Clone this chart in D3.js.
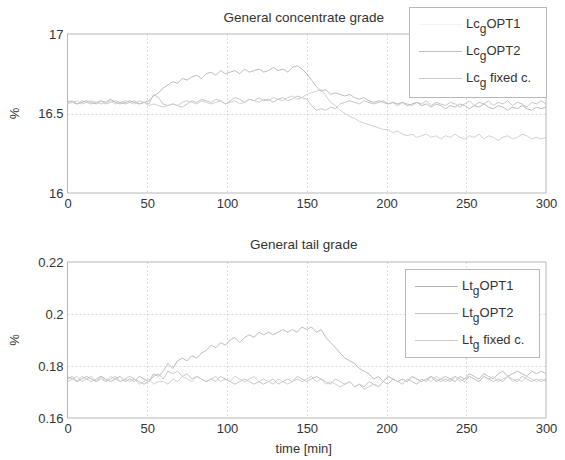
<!DOCTYPE html>
<html><head><meta charset="utf-8">
<script src="https://cdn.jsdelivr.net/npm/d3@7"></script>
<style>body{margin:0;background:#fff}svg{display:block}text{font-family:"Liberation Sans",Arial,sans-serif}</style>
</head><body><svg id="c" width="565" height="460"></svg>
<script>
const time = d3.range(0, 301, 3);
const xTicks = [0, 50, 100, 150, 200, 250, 300];
const topTicks = [16, 16.5, 17];
const botTicks = [0.16, 0.18, 0.2, 0.22];
const topNames = ["OPT1", "OPT2", " fixed c."];
const botNames = ["OPT1", "OPT2", " fixed c."];

const lcOPT1 = [
16.57,16.58,16.56,16.57,16.58,16.57,16.56,16.58,16.57,16.59,
16.57,16.56,16.57,16.58,16.57,16.56,16.57,16.58,16.61,16.63,
16.66,16.68,16.70,16.69,16.72,16.71,16.73,16.74,16.72,16.75,
16.76,16.74,16.77,16.75,16.76,16.77,16.75,16.78,16.76,16.77,
16.78,16.76,16.77,16.79,16.77,16.78,16.76,16.79,16.80,16.78,
16.75,16.71,16.67,16.64,16.65,16.62,16.63,16.62,16.61,16.62,
16.60,16.59,16.60,16.58,16.57,16.58,16.57,16.56,16.57,16.56,
16.57,16.55,16.56,16.57,16.55,16.56,16.54,16.56,16.55,16.53,
16.55,16.54,16.56,16.55,16.53,16.55,16.54,16.56,16.54,16.53,
16.55,16.54,16.52,16.54,16.53,16.55,16.53,16.52,16.54,16.53,
16.54];
const lcOPT2 = [
16.58,16.57,16.56,16.58,16.57,16.56,16.57,16.58,16.56,16.57,
16.58,16.57,16.56,16.57,16.58,16.56,16.57,16.56,16.62,16.60,
16.56,16.55,16.56,16.55,16.54,16.56,16.58,16.57,16.59,16.58,
16.57,16.59,16.58,16.56,16.58,16.60,16.59,16.57,16.59,16.58,
16.60,16.58,16.59,16.57,16.59,16.60,16.58,16.59,16.61,16.60,
16.59,16.55,16.52,16.53,16.52,16.54,16.53,16.56,16.57,16.58,
16.57,16.56,16.58,16.57,16.56,16.57,16.58,16.56,16.57,16.55,
16.57,16.56,16.55,16.57,16.56,16.58,16.55,16.57,16.56,16.55,
16.57,16.56,16.54,16.56,16.58,16.55,16.57,16.56,16.58,16.55,
16.57,16.56,16.58,16.55,16.57,16.56,16.54,16.57,16.56,16.58,
16.56];
const lcFixed = [
16.56,16.57,16.58,16.56,16.57,16.58,16.57,16.56,16.57,16.58,
16.56,16.57,16.58,16.57,16.56,16.58,16.57,16.55,16.56,16.55,
16.54,16.55,16.56,16.55,16.57,16.58,16.57,16.56,16.58,16.57,
16.56,16.57,16.58,16.56,16.57,16.58,16.56,16.57,16.59,16.58,
16.57,16.59,16.58,16.60,16.59,16.58,16.60,16.61,16.59,16.60,
16.62,16.63,16.64,16.65,16.61,16.57,16.55,16.52,16.50,16.48,
16.47,16.45,16.44,16.43,16.42,16.41,16.40,16.40,16.38,16.39,
16.37,16.36,16.37,16.35,16.36,16.37,16.35,16.36,16.34,16.36,
16.35,16.37,16.35,16.34,16.36,16.35,16.37,16.34,16.36,16.35,
16.33,16.35,16.36,16.34,16.35,16.37,16.36,16.34,16.35,16.34,
16.35];
const ltOPT1 = [
.175,.176,.174,.175,.176,.175,.174,.176,.175,.174,
.175,.176,.174,.175,.174,.176,.175,.174,.177,.176,
.178,.181,.179,.182,.183,.182,.184,.183,.185,.186,
.188,.187,.189,.188,.190,.191,.189,.191,.192,.191,
.193,.192,.193,.192,.193,.194,.193,.194,.193,.195,
.194,.195,.193,.194,.191,.189,.187,.185,.183,.182,
.181,.179,.178,.177,.175,.176,.174,.176,.175,.174,
.175,.174,.176,.175,.174,.175,.176,.174,.175,.176,
.175,.174,.176,.175,.177,.176,.175,.177,.176,.175,
.177,.178,.176,.177,.178,.177,.176,.178,.177,.178,
.177];
const ltOPT2 = [
.176,.175,.174,.176,.175,.174,.175,.176,.174,.175,
.176,.174,.175,.176,.175,.174,.173,.174,.176,.177,
.175,.178,.177,.178,.176,.177,.175,.176,.175,.174,
.175,.174,.176,.175,.174,.173,.174,.175,.174,.173,
.174,.173,.174,.175,.173,.174,.175,.174,.176,.175,
.174,.175,.176,.175,.174,.173,.175,.174,.173,.174,
.172,.173,.172,.174,.173,.172,.174,.173,.175,.174,
.173,.175,.174,.173,.175,.174,.176,.175,.174,.175,
.174,.176,.175,.174,.176,.175,.174,.176,.175,.174,
.175,.174,.176,.175,.174,.176,.175,.174,.175,.174,
.175];
const ltFixed = [
.174,.175,.176,.174,.175,.176,.174,.175,.174,.176,
.175,.174,.175,.174,.175,.173,.174,.175,.173,.174,
.174,.173,.175,.174,.176,.175,.174,.176,.175,.174,
.175,.176,.174,.175,.174,.176,.175,.174,.175,.176,
.174,.175,.174,.173,.175,.174,.173,.174,.175,.174,
.175,.176,.174,.175,.173,.174,.173,.172,.173,.174,
.172,.173,.171,.172,.173,.172,.174,.176,.175,.174,
.175,.174,.176,.175,.174,.175,.174,.176,.175,.174,
.175,.176,.174,.175,.176,.175,.174,.176,.175,.176,
.174,.175,.176,.174,.175,.174,.176,.175,.174,.175,
.174];

const colors = ["#b4b4b4", "#c0c0c0", "#cbcbcb"];
const svg = d3.select("#c");
const L = 67.5, R = 546;

function panel(cfg) {
  const x = d3.scaleLinear().domain([0, 300]).range([L, R]);
  const y = d3.scaleLinear().domain(cfg.yDomain).range([cfg.bottom, cfg.top]);
  const g = svg.append("g");
  g.selectAll(".gx").data(xTicks.slice(1, -1)).join("line")
    .attr("x1", d => Math.round(x(d)) + 0.5).attr("x2", d => Math.round(x(d)) + 0.5)
    .attr("y1", cfg.top).attr("y2", cfg.bottom)
    .attr("stroke", "#dcdcdc").attr("stroke-dasharray", "2,2");
  g.selectAll(".gy").data(cfg.yTicks.slice(1, -1)).join("line")
    .attr("y1", d => Math.round(y(d)) + 0.5).attr("y2", d => Math.round(y(d)) + 0.5)
    .attr("x1", L).attr("x2", R)
    .attr("stroke", "#dcdcdc").attr("stroke-dasharray", "2,2");
  const line = d3.line().x((d, i) => x(time[i])).y(d => y(d));
  cfg.series.forEach((s, i) => {
    g.append("path").datum(s).attr("d", line).attr("fill", "none")
      .attr("stroke", colors[i]).attr("stroke-width", 0.9);
  });
  g.append("rect").attr("x", L).attr("y", cfg.top).attr("width", R - L).attr("height", cfg.bottom - cfg.top)
    .attr("fill", "none").attr("stroke", "#b8b8b8");
  const xa = d3.axisBottom(x).tickValues(xTicks).tickSize(0).tickPadding(6).tickFormat(d3.format("d"));
  const xg = g.append("g").attr("transform", `translate(0,${cfg.bottom})`).call(xa);
  xg.select(".domain").remove();
  xg.selectAll("text").attr("font-size", 13).attr("fill", "#333");
  const ya = d3.axisLeft(y).tickValues(cfg.yTicks).tickSize(0).tickPadding(4).tickFormat(d => String(+d.toFixed(2)));
  const yg = g.append("g").attr("transform", `translate(${L},0)`).call(ya);
  yg.select(".domain").remove();
  yg.selectAll("text").attr("font-size", 13).attr("fill", "#333");
  svg.append("text").attr("x", (L + R) / 2 - 3).attr("y", cfg.titleY).attr("text-anchor", "middle")
    .attr("font-size", 13.5).attr("fill", "#333").text(cfg.title);
  svg.append("text").attr("transform", `translate(19,${(cfg.top + cfg.bottom) / 2}) rotate(-90)`)
    .attr("text-anchor", "middle").attr("font-size", 13).attr("fill", "#333").text("%");
  const lg = cfg.legend;
  svg.append("rect").attr("x", lg.x + 0.5).attr("y", lg.y + 0.5).attr("width", lg.w).attr("height", lg.h)
    .attr("fill", "#fff").attr("stroke", "#b8b8b8");
  cfg.names.forEach((n, i) => {
    const cy = lg.y + 17 + i * 27;
    svg.append("line").attr("x1", lg.x + 10).attr("x2", lg.x + 53).attr("y1", cy + 0.5).attr("y2", cy + 0.5)
      .attr("stroke", i === 0 && cfg.firstHidden ? "#f4f4f4" : colors[i]);
    const t = svg.append("text").attr("x", lg.x + 57).attr("y", cy + 4).attr("font-size", 13).attr("fill", "#333");
    t.append("tspan").text(cfg.prefix);
    t.append("tspan").attr("font-size", 12).attr("dy", 5).text("g");
    t.append("tspan").attr("dy", -5).text(n);
  });
}

panel({top: 34, bottom: 193, yDomain: [16, 17], yTicks: topTicks,
  series: [lcOPT1, lcOPT2, lcFixed], title: "General concentrate grade", titleY: 22,
  legend: {x: 409, y: 7, w: 137, h: 90}, names: topNames, prefix: "Lc", firstHidden: true});
panel({top: 262, bottom: 418, yDomain: [0.16, 0.22], yTicks: botTicks,
  series: [ltOPT1, ltOPT2, ltFixed], title: "General tail grade", titleY: 249,
  legend: {x: 405, y: 269, w: 134, h: 88}, names: botNames, prefix: "Lt", firstHidden: false});

svg.append("text").attr("x", (L + R) / 2 - 3).attr("y", 453).attr("text-anchor", "middle")
  .attr("font-size", 13).attr("fill", "#333").text("time [min]");
</script></body></html>
